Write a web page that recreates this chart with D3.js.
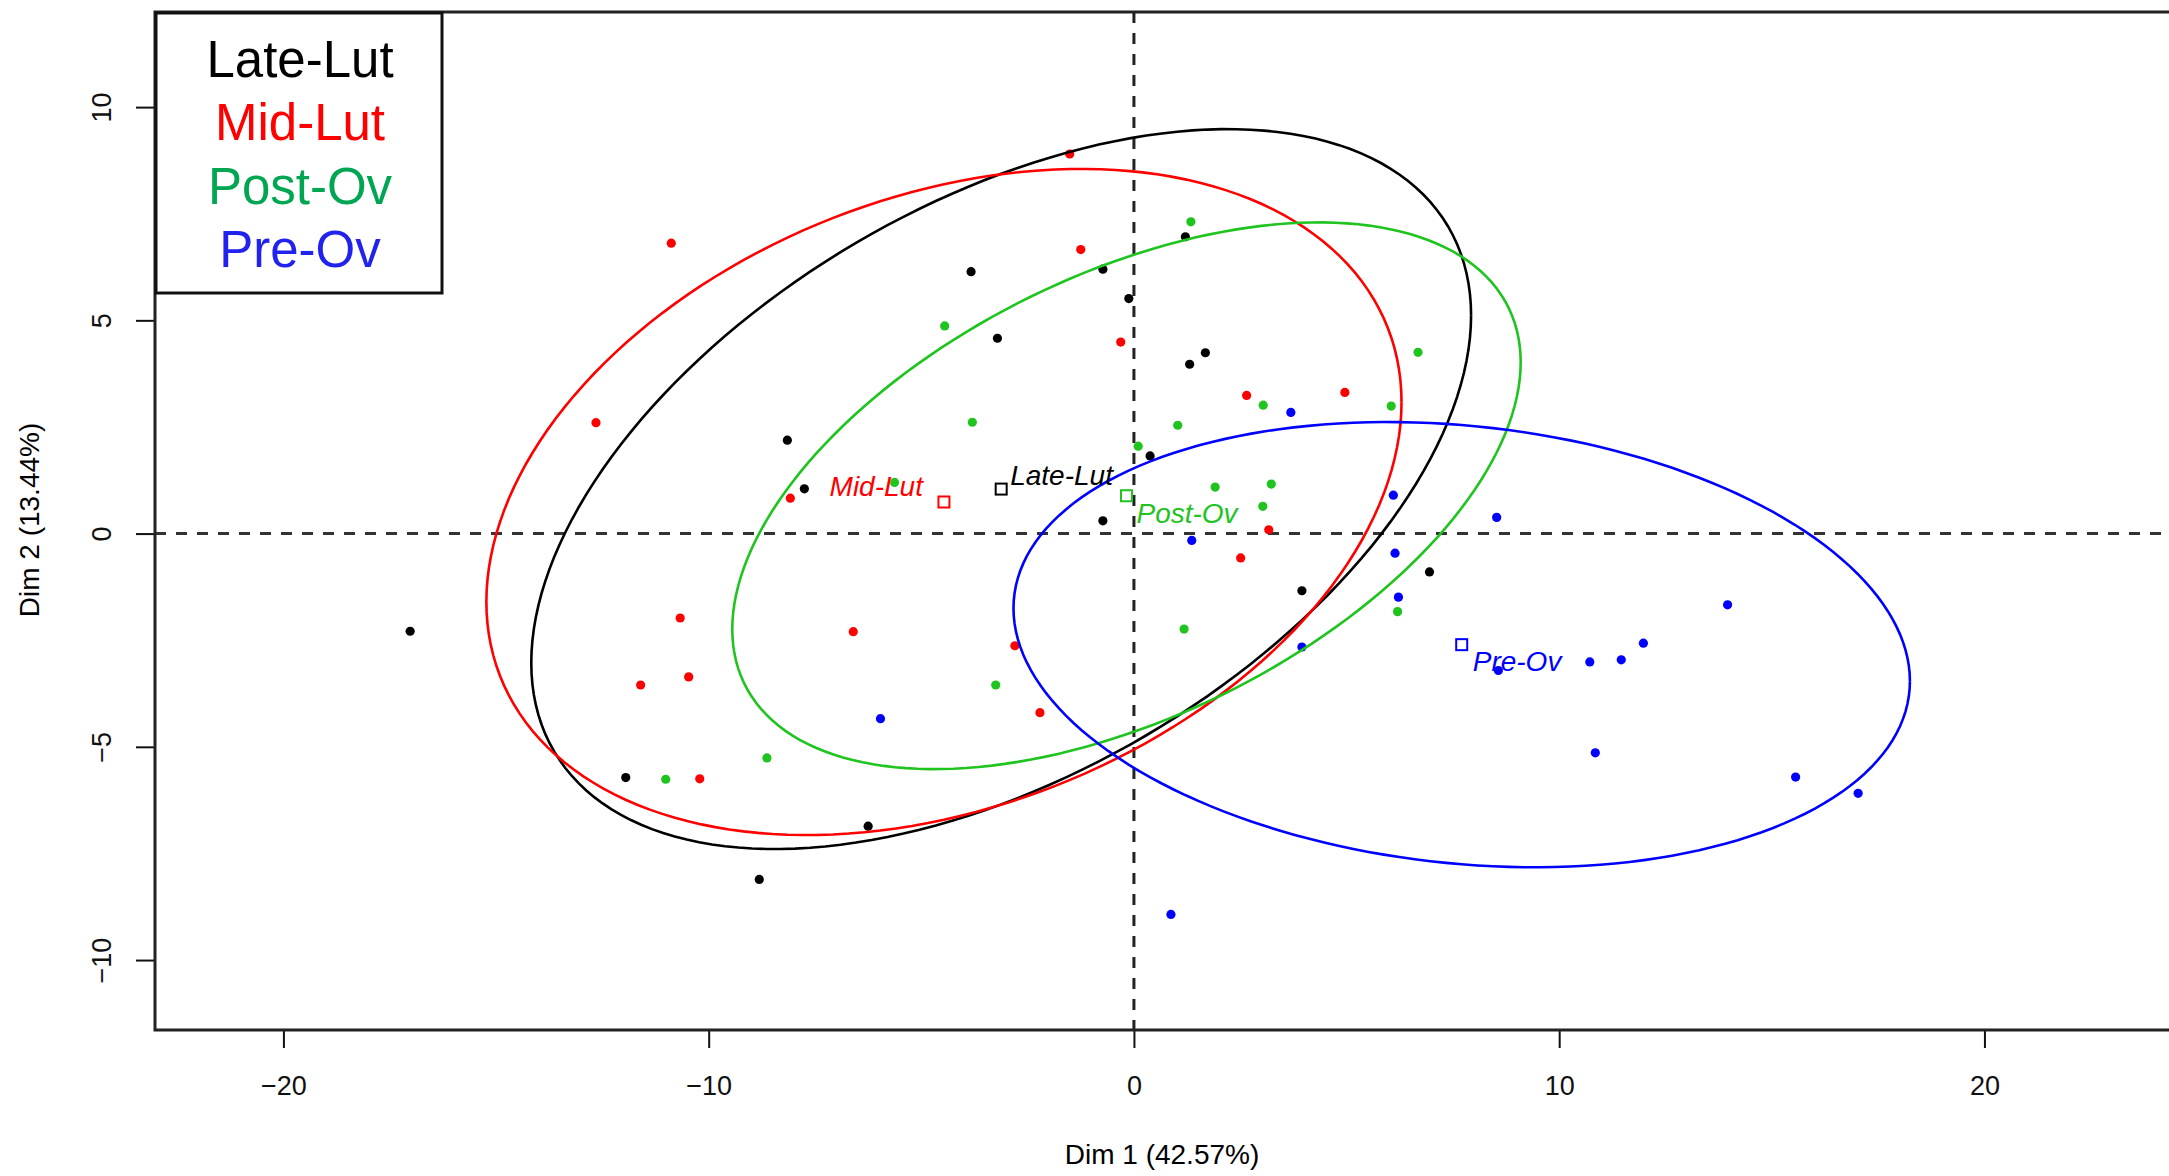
<!DOCTYPE html>
<html>
<head>
<meta charset="utf-8">
<script src="https://cdn.jsdelivr.net/npm/d3@7"></script>
<style>
  body { margin: 0; background: #fff; }
  text { font-family: "Liberation Sans", Arial, sans-serif; }
</style>
</head>
<body>
<div id="chart"></div>
<script>
// groups and colours
const groups = ["Late-Lut", "Mid-Lut", "Post-Ov", "Pre-Ov"];
const colors = ["#000000", "#ff0000", "#1fc41f", "#0000ff"];
const legendColors = ["#000000", "#ff0000", "#00a651", "#2222ee"];

// individuals (Dim 1, Dim 2)
const lateLutX = [-17.02, -8.15, -7.75, -3.83, -3.21, -0.73, -0.12, 1.21, 1.31, 1.68, 0.38, -0.73, 3.95, 6.95, -11.95, -6.25, -8.81];
const lateLutY = [-2.29, 2.19, 1.05, 6.14, 4.58, 6.20, 5.51, 6.96, 3.97, 4.24, 1.82, 0.30, -1.34, -0.90, -5.72, -6.86, -8.11];
const midLutX = [-10.88, -12.65, -8.08, -1.51, -1.25, -0.31, 2.65, 4.96, 3.17, 2.51, -10.67, -6.60, -11.60, -10.47, -2.80, -2.21, -10.21];
const midLutY = [6.81, 2.60, 0.83, 8.90, 6.66, 4.49, 3.24, 3.31, 0.09, -0.57, -1.98, -2.30, -3.55, -3.36, -2.63, -4.20, -5.75];
const postOvX = [1.34, -4.45, -3.80, -5.63, 0.10, 1.03, 3.04, 6.05, 6.68, 1.91, 3.23, 3.03, 1.18, 6.20, -3.25, -8.63, -11.01];
const postOvY = [7.31, 4.87, 2.61, 1.20, 2.05, 2.54, 3.01, 2.99, 4.25, 1.09, 1.16, 0.64, -2.24, -1.83, -3.55, -5.26, -5.76];
const preOvX = [3.69, 6.10, 8.53, 1.36, 6.14, 6.22, 3.95, 13.96, 11.98, 11.46, 10.72, 8.57, -5.96, 10.85, 15.56, 17.03, 0.87];
const preOvY = [2.84, 0.90, 0.38, -0.16, -0.46, -1.49, -2.66, -1.67, -2.57, -2.96, -3.01, -3.21, -4.34, -5.14, -5.71, -6.09, -8.93];

// confidence ellipses: half extent along Dim 1, along Dim 2, and covariance term
const ellipseHalfX = [11.05, 10.76, 9.27, 10.54];
const ellipseHalfY = [8.44, 7.81, 6.41, 5.22];
const ellipseCov = [45.0, 25.2, 29.0, -9.0];

const xTicks = [-20, -10, 0, 10, 20];
const yTicks = [-10, -5, 0, 5, 10];
const xTitle = "Dim 1 (42.57%)";
const yTitle = "Dim 2 (13.44%)";

const seriesX = [lateLutX, midLutX, postOvX, preOvX];
const seriesY = [lateLutY, midLutY, postOvY, preOvY];

const width = 2169;
const height = 1176;
const plotLeft = 155, plotTop = 12, plotRight = 2169, plotBottom = 1030;

const svg = d3.select("#chart")
    .append("svg")
    .attr("width", width)
    .attr("height", height);

const x = d3.scaleLinear().domain([-23.02, 24.34]).range([plotLeft, plotRight]);
const y = d3.scaleLinear().domain([-11.64, 12.23]).range([plotBottom, plotTop]);

// reference lines through the origin
svg.append("line")
    .attr("x1", plotLeft).attr("x2", plotRight)
    .attr("y1", y(0)).attr("y2", y(0))
    .attr("stroke", "#333").attr("stroke-width", 3)
    .attr("stroke-dasharray", "11,10");
svg.append("line")
    .attr("x1", x(0)).attr("x2", x(0))
    .attr("y1", plotTop).attr("y2", plotBottom)
    .attr("stroke", "#222").attr("stroke-width", 3)
    .attr("stroke-dasharray", "11,10");

// axes
const xAxis = svg.append("g")
    .attr("transform", `translate(0,${plotBottom})`)
    .call(d3.axisBottom(x).tickValues(xTicks).tickSize(18).tickFormat(d3.format("d")));
xAxis.select(".domain").remove();
xAxis.selectAll("line").attr("stroke", "#111").attr("stroke-width", 2);
xAxis.selectAll("text")
    .attr("y", 65).attr("dy", null)
    .attr("font-size", 27).attr("fill", "#111");

const yAxis = svg.append("g")
    .attr("transform", `translate(${plotLeft},0)`)
    .call(d3.axisLeft(y).tickValues(yTicks).tickSize(19).tickFormat(d3.format("d")));
yAxis.select(".domain").remove();
yAxis.selectAll("line").attr("stroke", "#111").attr("stroke-width", 2);
yAxis.selectAll("text")
    .attr("x", 0).attr("y", -44).attr("dy", null)
    .attr("transform", "rotate(-90)")
    .attr("text-anchor", "middle")
    .attr("font-size", 27).attr("fill", "#111");

// frame (right side falls outside the picture)
svg.append("path")
    .attr("d", `M${plotRight + 20},${plotTop}H${plotLeft}V${plotBottom}H${plotRight + 20}`)
    .attr("fill", "none")
    .attr("stroke", "#222")
    .attr("stroke-width", 3);

svg.append("text")
    .attr("x", 1162).attr("y", 1164)
    .attr("text-anchor", "middle")
    .attr("font-size", 28)
    .text(xTitle);
svg.append("text")
    .attr("transform", "translate(39,520) rotate(-90)")
    .attr("text-anchor", "middle")
    .attr("font-size", 28)
    .text(yTitle);

// individuals
groups.forEach((g, i) => {
    svg.append("g")
        .selectAll("circle")
        .data(d3.zip(seriesX[i], seriesY[i]))
        .enter().append("circle")
        .attr("cx", d => x(d[0]))
        .attr("cy", d => y(d[1]))
        .attr("r", 4.6)
        .attr("fill", colors[i]);
});

// ellipses around group means
const line = d3.line().x(d => x(d[0])).y(d => y(d[1]));
const centroids = groups.map((g, i) => [d3.mean(seriesX[i]), d3.mean(seriesY[i])]);

groups.forEach((g, i) => {
    const a = ellipseHalfX[i];
    const b = ellipseCov[i] / a;
    const c = Math.sqrt(ellipseHalfY[i] * ellipseHalfY[i] - b * b);
    const [cx, cy] = centroids[i];
    const pts = d3.range(0, 361, 2).map(deg => {
        const t = deg * Math.PI / 180;
        return [cx + a * Math.cos(t), cy + b * Math.cos(t) + c * Math.sin(t)];
    });
    svg.append("path")
        .attr("d", line(pts))
        .attr("fill", "none")
        .attr("stroke", colors[i])
        .attr("stroke-width", 2.6);
});

// group means and their labels
const labelPos = [
    {dx: 9, dy: -4, anchor: "start"},
    {dx: -21, dy: -6, anchor: "end"},
    {dx: 10, dy: 27, anchor: "start"},
    {dx: 11, dy: 26, anchor: "start"}
];
groups.forEach((g, i) => {
    const px = x(centroids[i][0]), py = y(centroids[i][1]);
    svg.append("rect")
        .attr("x", px - 5.5).attr("y", py - 5.5)
        .attr("width", 11).attr("height", 11)
        .attr("fill", "none")
        .attr("stroke", colors[i])
        .attr("stroke-width", 2);
    svg.append("text")
        .attr("x", px + labelPos[i].dx)
        .attr("y", py + labelPos[i].dy)
        .attr("text-anchor", labelPos[i].anchor)
        .attr("font-size", 28)
        .attr("font-style", "italic")
        .attr("fill", colors[i])
        .text(g);
});

// legend
const legend = svg.append("g");
legend.append("rect")
    .attr("x", 156).attr("y", 13)
    .attr("width", 286).attr("height", 280)
    .attr("fill", "#fff")
    .attr("stroke", "#111")
    .attr("stroke-width", 3);
legend.selectAll("text")
    .data(groups)
    .enter().append("text")
    .attr("x", 300)
    .attr("y", (d, i) => 77 + i * 63.3)
    .attr("text-anchor", "middle")
    .attr("font-size", 51)
    .attr("fill", (d, i) => legendColors[i])
    .text(d => d);
</script>
</body>
</html>
